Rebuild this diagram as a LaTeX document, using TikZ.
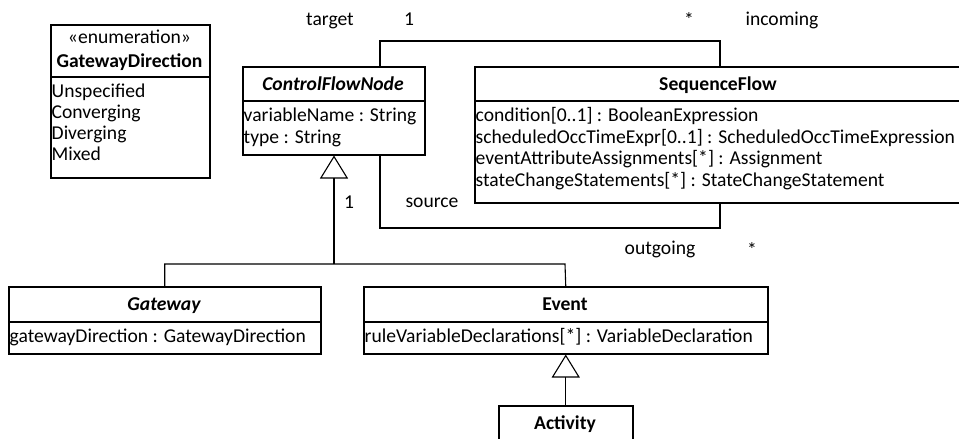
\documentclass[tikz,border=0pt]{standalone}
\usepackage{fontspec}
\setmainfont{Carlito}
\usetikzlibrary{arrows.meta}
\begin{document}
\begin{tikzpicture}[x=1pt,y=-1pt,
  font=\fontsize{19.6}{21.5}\selectfont,
  box/.style={draw, line width=1.5pt, inner sep=0pt, anchor=north west},
  sep/.style={line width=1.5pt},
  conn/.style={line width=1.1pt},
  gen/.style={conn, -{Triangle[open, length=23pt, width=28pt, line width=1.1pt]}},
  attr/.style={anchor=base west, inner sep=0pt},
  hdr/.style={anchor=base, inner sep=0pt, font=\fontsize{19.6}{21.5}\selectfont\bfseries},
  ahdr/.style={hdr, font=\fontsize{19.6}{21.5}\selectfont\bfseries\itshape},
  lbl/.style={anchor=base, inner sep=0pt}]
\useasboundingbox (0,0) rectangle (959,439);
\clip (0,0) rectangle (959,439);

% GatewayDirection enumeration
\node[box, minimum width=159pt, minimum height=153pt] (gd) at (50,24) {};
\draw[sep] (50,77) -- (209,77);
\node[lbl] (gds) at (129.5,43) {«enumeration»};
\node[hdr] (gdn) at (129.5,67) {GatewayDirection};
\node[attr] (gd1) at (51.5,97) {Unspecified};
\node[attr] (gd2) at (51.5,118) {Converging};
\node[attr] (gd3) at (51.5,139) {Diverging};
\node[attr] (gd4) at (51.5,160) {Mixed};

% ControlFlowNode
\node[box, minimum width=182pt, minimum height=88pt] (cfn) at (242,66) {};
\draw[sep] (242,101) -- (424,101);
\node[ahdr] (cfnh) at (333,90) {ControlFlowNode};
\node[attr] (cfn1) at (243.5,121) {variableName : String};
\node[attr] (cfn2) at (243.5,143) {type : String};

% SequenceFlow
\node[box, minimum width=488pt, minimum height=136pt] (sf) at (474,66) {};
\draw[sep] (474,101) -- (962,101);
\node[hdr] (sfh) at (718,90) {SequenceFlow};
\node[attr] (sf1) at (475.5,121) {condition[0..1] : BooleanExpression};
\node[attr] (sf2) at (475.5,143) {scheduledOccTimeExpr[0..1] : ScheduledOccTimeExpression};
\node[attr] (sf3) at (475.5,164.5) {eventAttributeAssignments[*] : Assignment};
\node[attr] (sf4) at (475.5,186) {stateChangeStatements[*] : StateChangeStatement};

% Gateway
\node[box, minimum width=312pt, minimum height=67pt] (gw) at (8,286) {};
\draw[sep] (8,322) -- (320,322);
\node[ahdr] (gwh) at (164,310) {Gateway};
\node[attr] (gw1) at (9.5,342) {gatewayDirection : GatewayDirection};

% Event
\node[box, minimum width=404pt, minimum height=67pt] (ev) at (363,286) {};
\draw[sep] (363,322) -- (767,322);
\node[hdr] (evh) at (565,310) {Event};
\node[attr] (ev1) at (364.5,342) {ruleVariableDeclarations[*] : VariableDeclaration};

% Activity
\node[box, minimum width=134pt, minimum height=60pt] (act) at (498,405) {};
\node[hdr] (acth) at (565,429) {Activity};

% association target/incoming
\coordinate (tl) at (380,41);
\coordinate (tr) at (720,41);
\draw[conn] (cfn.north -| tl) -- (tl) -- (tr) -- (sf.north -| tr);
% association source/outgoing
\coordinate (bl) at (380,228);
\coordinate (br) at (720,228);
\draw[conn] (cfn.south -| bl) -- (bl) -- (br) -- (sf.south -| br);

\node[lbl] (ltarget) at (330,25) {target};
\node[lbl] (lone1) at (409,25) {1};
\node[lbl] (lstar1) at (689,27) {*};
\node[lbl] (lincoming) at (782,25) {incoming};
\node[lbl] (lone2) at (349,208) {1};
\node[lbl] (lsource) at (432,207) {source};
\node[lbl] (loutgoing) at (660,254) {outgoing};
\node[lbl] (lstar2) at (752,256) {*};

% generalizations
\coordinate (gj) at (334,264);
\coordinate (gr) at (565,264);
\draw[gen] (gj) -- (cfn.south -| gj);
\draw[conn] (gw.north) |- (gr) -- (ev.north);
\draw[gen] (act.north) -- (ev.south);
\end{tikzpicture}
\end{document}
